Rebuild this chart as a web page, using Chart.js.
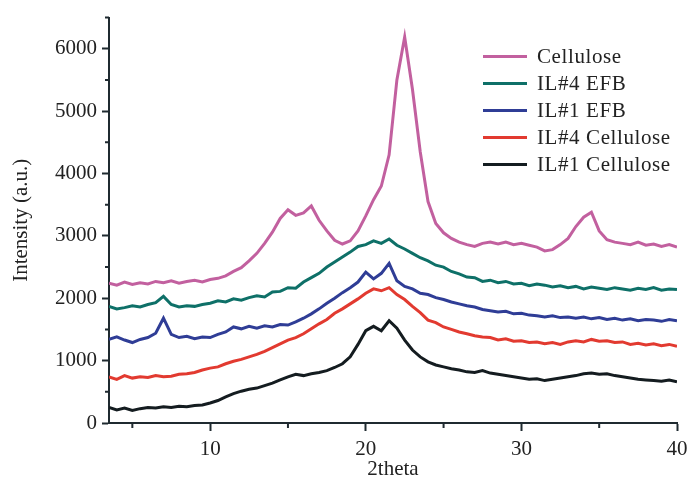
<!DOCTYPE html>
<html>
<head>
<meta charset="utf-8">
<script src="https://cdn.jsdelivr.net/npm/chart.js@4.4.1/dist/chart.umd.min.js"></script>
<style>
  html, body { margin: 0; padding: 0; background: #fff; }
  #wrap { position: relative; width: 688px; height: 486px; }
  #legend { position: absolute; left: 483px; top: 43px; font-family: "Liberation Serif", "Times New Roman", serif; font-size: 21px; color: #222; }
  #legend .row { height: 27px; display: flex; align-items: center; white-space: nowrap; letter-spacing: 0.6px; }
  #legend .swatch { width: 44px; height: 3px; margin-right: 10px; }
</style>
</head>
<body>
<div id="wrap">
  <canvas id="xrdChart" width="688" height="486"></canvas>
  <div id="legend"></div>
</div>
<script>
// ========== DATA ==========
// 2theta positions (deg)
const twoTheta = [
  3.5, 4, 4.5, 5, 5.5, 6, 6.5, 7, 7.5, 8, 8.5, 9, 9.5, 10, 10.5, 11, 11.5, 12, 12.5, 13,
  13.5, 14, 14.5, 15, 15.5, 16, 16.5, 17, 17.5, 18, 18.5, 19, 19.5, 20, 20.5, 21, 21.5, 22,
  22.5, 23, 23.5, 24, 24.5, 25, 25.5, 26, 26.5, 27, 27.5, 28, 28.5, 29, 29.5, 30, 30.5, 31,
  31.5, 32, 32.5, 33, 33.5, 34, 34.5, 35, 35.5, 36, 36.5, 37, 37.5, 38, 38.5, 39, 39.5, 40
];

const cellulose = [
  2240, 2210, 2260, 2220, 2250, 2230, 2270, 2250, 2280, 2240, 2270, 2290, 2260, 2300, 2320, 2360, 2430, 2490, 2600, 2720,
  2880, 3060, 3280, 3420, 3330, 3370, 3480, 3250, 3080, 2930, 2870, 2920, 3080, 3320, 3580, 3800, 4300, 5500,
  6190, 5350, 4350, 3550, 3200, 3050, 2960, 2900, 2860, 2830, 2880, 2900, 2870, 2900, 2860, 2880, 2850, 2820,
  2760, 2780, 2860, 2960, 3150, 3300, 3380, 3080, 2940, 2900, 2880, 2860, 2900, 2850, 2870, 2830, 2860, 2820
];

const il4Efb = [
  1870, 1830, 1850, 1880, 1860, 1900, 1930, 2030, 1900, 1860, 1880, 1870, 1900, 1920, 1960, 1940, 1990, 1970, 2010, 2040,
  2020, 2100, 2110, 2170, 2160, 2260, 2330, 2400, 2500, 2580, 2660, 2740, 2830, 2860, 2920, 2880, 2950, 2850,
  2790, 2720, 2650, 2600, 2530, 2500, 2430, 2390, 2340, 2330, 2270, 2290, 2250, 2270, 2230, 2240, 2200, 2230,
  2210, 2180, 2200, 2170, 2190, 2150, 2180, 2160, 2140, 2170, 2150, 2130, 2160, 2140, 2170, 2130, 2150, 2140
];

const il1Efb = [
  1340, 1380, 1330, 1290, 1340, 1370, 1440, 1680, 1420, 1370, 1390, 1350, 1380, 1370, 1420, 1460, 1540, 1510, 1550, 1520,
  1560, 1540, 1580, 1570, 1620, 1680, 1750, 1830, 1920, 2000, 2090, 2170, 2260, 2420, 2310, 2400, 2560, 2280,
  2190, 2150, 2080, 2060, 2010, 1980, 1940, 1910, 1880, 1860, 1820, 1800, 1780, 1790, 1750, 1760, 1730, 1720,
  1700, 1720, 1690, 1700, 1680, 1700, 1670, 1690, 1660, 1680, 1650, 1670, 1640, 1660, 1650, 1630, 1660, 1640
];

const il4Cellulose = [
  740, 700, 760, 720, 740, 730, 760, 740, 750, 780, 790, 810, 850, 880, 900, 950, 990, 1020, 1060, 1100,
  1150, 1210, 1270, 1330, 1370, 1430, 1510, 1590, 1660, 1760, 1830, 1910, 1990, 2080, 2150, 2120, 2170, 2060,
  1980, 1870, 1770, 1650, 1610, 1540, 1500, 1460, 1430, 1400, 1380, 1370, 1330, 1350, 1310, 1320, 1290, 1300,
  1270, 1290, 1260, 1300, 1320, 1300, 1340, 1310, 1320, 1290, 1300, 1260, 1280, 1250, 1270, 1240, 1260, 1230
];

const il1Cellulose = [
  250, 210, 240, 200, 230, 250, 240, 260, 250, 270, 260, 280, 290, 320, 360, 420, 470, 510, 540, 560,
  600, 640, 690, 740, 780, 760, 790, 810, 840, 890, 950, 1060, 1260, 1480, 1550, 1480, 1640, 1520,
  1330, 1170, 1060, 980, 930, 900, 870, 850, 820, 810, 840, 800, 780, 760, 740, 720, 700, 710,
  680, 700, 720, 740, 760, 790, 800, 780, 790, 760, 740, 720, 700, 690, 680, 670, 690, 660
];

const seriesNames = ['Cellulose', 'IL#4 EFB', 'IL#1 EFB', 'IL#4 Cellulose', 'IL#1 Cellulose'];
const seriesColors = ['#c2609f', '#0e7068', '#2f3d96', '#e23a30', '#141c20'];
const seriesValues = [cellulose, il4Efb, il1Efb, il4Cellulose, il1Cellulose];

const xTicks = [10, 20, 30, 40];
const yTicks = [0, 1000, 2000, 3000, 4000, 5000, 6000];
const yMinorTicks = [500, 1500, 2500, 3500, 4500, 5500, 6500];
const xMinorTicks = [5, 15, 25, 35];

// ========== CHART ==========
const axisColor = '#1f2a30';
const serif = '"Liberation Serif", "Times New Roman", serif';

// minor tick marks (shorter than the labelled ones)
const minorTicks = {
  id: 'minorTicks',
  afterDraw(chart) {
    const ctx = chart.ctx;
    const xs = chart.scales.x, ys = chart.scales.y;
    ctx.save();
    ctx.strokeStyle = axisColor;
    ctx.lineWidth = 2;
    ctx.beginPath();
    yMinorTicks.forEach(v => {
      const py = ys.getPixelForValue(v);
      ctx.moveTo(xs.left - 4, py);
      ctx.lineTo(xs.left, py);
    });
    xMinorTicks.forEach(v => {
      const px = xs.getPixelForValue(v);
      ctx.moveTo(px, ys.bottom);
      ctx.lineTo(px, ys.bottom + 5);
    });
    ctx.stroke();
    ctx.restore();
  }
};

const datasets = seriesNames.map((name, i) => ({
  label: name,
  data: twoTheta.map((t, j) => ({ x: t, y: seriesValues[i][j] })),
  borderColor: seriesColors[i],
  borderWidth: 3,
  pointRadius: 0,
  tension: 0,
  fill: false
}));

new Chart(document.getElementById('xrdChart').getContext('2d'), {
  type: 'line',
  data: { datasets: datasets },
  plugins: [minorTicks],
  options: {
    responsive: false,
    animation: false,
    layout: { padding: { top: 17, right: 0, left: 0, bottom: 0 } },
    plugins: { legend: { display: false }, tooltip: { enabled: false } },
    scales: {
      x: {
        type: 'linear',
        min: 3.5,
        max: 40,
        afterBuildTicks: s => { s.ticks = xTicks.map(v => ({ value: v })); },
        afterFit: s => { s.height = 63; s.paddingRight = 11; s.paddingLeft = 0; },
        grid: { drawOnChartArea: false, tickLength: 8, tickWidth: 2, tickColor: axisColor },
        border: { color: axisColor, width: 2 },
        ticks: { color: '#222', font: { family: serif, size: 21 }, padding: 6, maxRotation: 0, callback: v => String(v) },
        title: { display: true, text: '2theta', color: '#222', font: { family: serif, size: 21 }, padding: { top: 0, bottom: 4 } }
      },
      y: {
        type: 'linear',
        min: 0,
        max: 6500,
        afterBuildTicks: s => { s.ticks = yTicks.map(v => ({ value: v })); },
        afterFit: s => { s.width = 109; },
        grid: { drawOnChartArea: false, tickLength: 7, tickWidth: 2, tickColor: axisColor },
        border: { color: axisColor, width: 2 },
        ticks: { color: '#222', font: { family: serif, size: 21 }, padding: 5, callback: v => String(v) },
        title: { display: true, text: 'Intensity (a.u.)', color: '#222', font: { family: serif, size: 21 }, padding: { top: 9, bottom: 0 } }
      }
    }
  }
});

// HTML legend inside the plot area
const legendEl = document.getElementById('legend');
seriesNames.forEach((name, i) => {
  const row = document.createElement('div');
  row.className = 'row';
  const sw = document.createElement('span');
  sw.className = 'swatch';
  sw.style.background = seriesColors[i];
  const txt = document.createElement('span');
  txt.textContent = name;
  row.appendChild(sw);
  row.appendChild(txt);
  legendEl.appendChild(row);
});
</script>
</body>
</html>
